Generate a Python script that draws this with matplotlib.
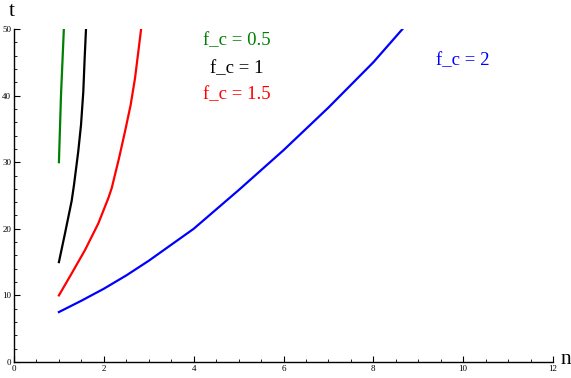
import matplotlib
matplotlib.use("Agg")
import matplotlib.pyplot as plt
from matplotlib.ticker import MultipleLocator

# values
n_05 = [1.0, 1.046, 1.11]
t_05 = [30, 40, 50]

n_1 = [1.0, 1.135, 1.284, 1.336, 1.43, 1.492, 1.543, 1.573, 1.603]
t_1 = [15.0, 19.3, 24.2, 26.6, 31.6, 35.6, 40.6, 45.6, 50.0]

n_15 = [1.0, 1.284, 1.58, 1.877, 2.10, 2.175, 2.338, 2.471, 2.597, 2.694, 2.768, 2.83]
t_15 = [10.0, 13.3, 16.8, 20.8, 24.6, 26.1, 30.6, 34.6, 38.6, 42.6, 46.6, 50.0]

n_2 = [1.0, 1.5, 2.0, 2.5, 3.0, 4.0, 5.0, 6.0, 7.0, 8.0, 8.65]
t_2 = [7.5, 9.2, 11.0, 13.0, 15.2, 20.0, 25.8, 31.8, 38.2, 45.0, 50]

x_ticks = [0, 2, 4, 6, 8, 10, 12]
y_ticks = [0, 10, 20, 30, 40, 50]

serif = "Liberation Serif"

fig = plt.figure(figsize=(5.71, 3.78), dpi=100)
W, H = 571, 378
ax = fig.add_axes([14 / W, 16 / H, (553 - 14) / W, (362 - 29) / H])

ax.plot(n_05, t_05, color="green", lw=1.6)
ax.plot(n_1, t_1, color="black", lw=1.6)
ax.plot(n_15, t_15, color="red", lw=1.6)
ax.plot(n_2, t_2, color="blue", lw=1.6)

ax.set_xlim(0, 12)
ax.set_ylim(0, 50)
ax.spines["top"].set_visible(False)
ax.spines["right"].set_visible(False)
ax.spines["left"].set_linewidth(1.0)
ax.spines["bottom"].set_linewidth(1.0)

ax.set_xticks(x_ticks)
ax.set_yticks(y_ticks)
ax.xaxis.set_minor_locator(MultipleLocator(0.5))
ax.yaxis.set_minor_locator(MultipleLocator(2))
ax.tick_params(which="major", direction="in", length=4, width=0.8, pad=2)
ax.tick_params(which="minor", direction="in", length=2.5, width=0.6)
for lab in ax.get_xticklabels() + ax.get_yticklabels():
    lab.set_fontfamily(serif)
    lab.set_fontsize(6.5)

fig.text(12 / W, 1 - 11 / H, "t", family=serif, fontsize=15, ha="center", va="center")
fig.text(566 / W, 1 - 360 / H, "n", family=serif, fontsize=15.5, ha="center", va="center")

ax.text(4.96, 48.2, "f_c = 0.5", color="green", family=serif, fontsize=13.5, ha="center", va="center")
ax.text(4.96, 44.1, "f_c = 1", color="black", family=serif, fontsize=13.5, ha="center", va="center")
ax.text(4.96, 40.1, "f_c = 1.5", color="red", family=serif, fontsize=13.5, ha="center", va="center")
ax.text(10.0, 45.2, "f_c = 2", color="blue", family=serif, fontsize=13.5, ha="center", va="center")

fig.savefig("out.png", dpi=100)
